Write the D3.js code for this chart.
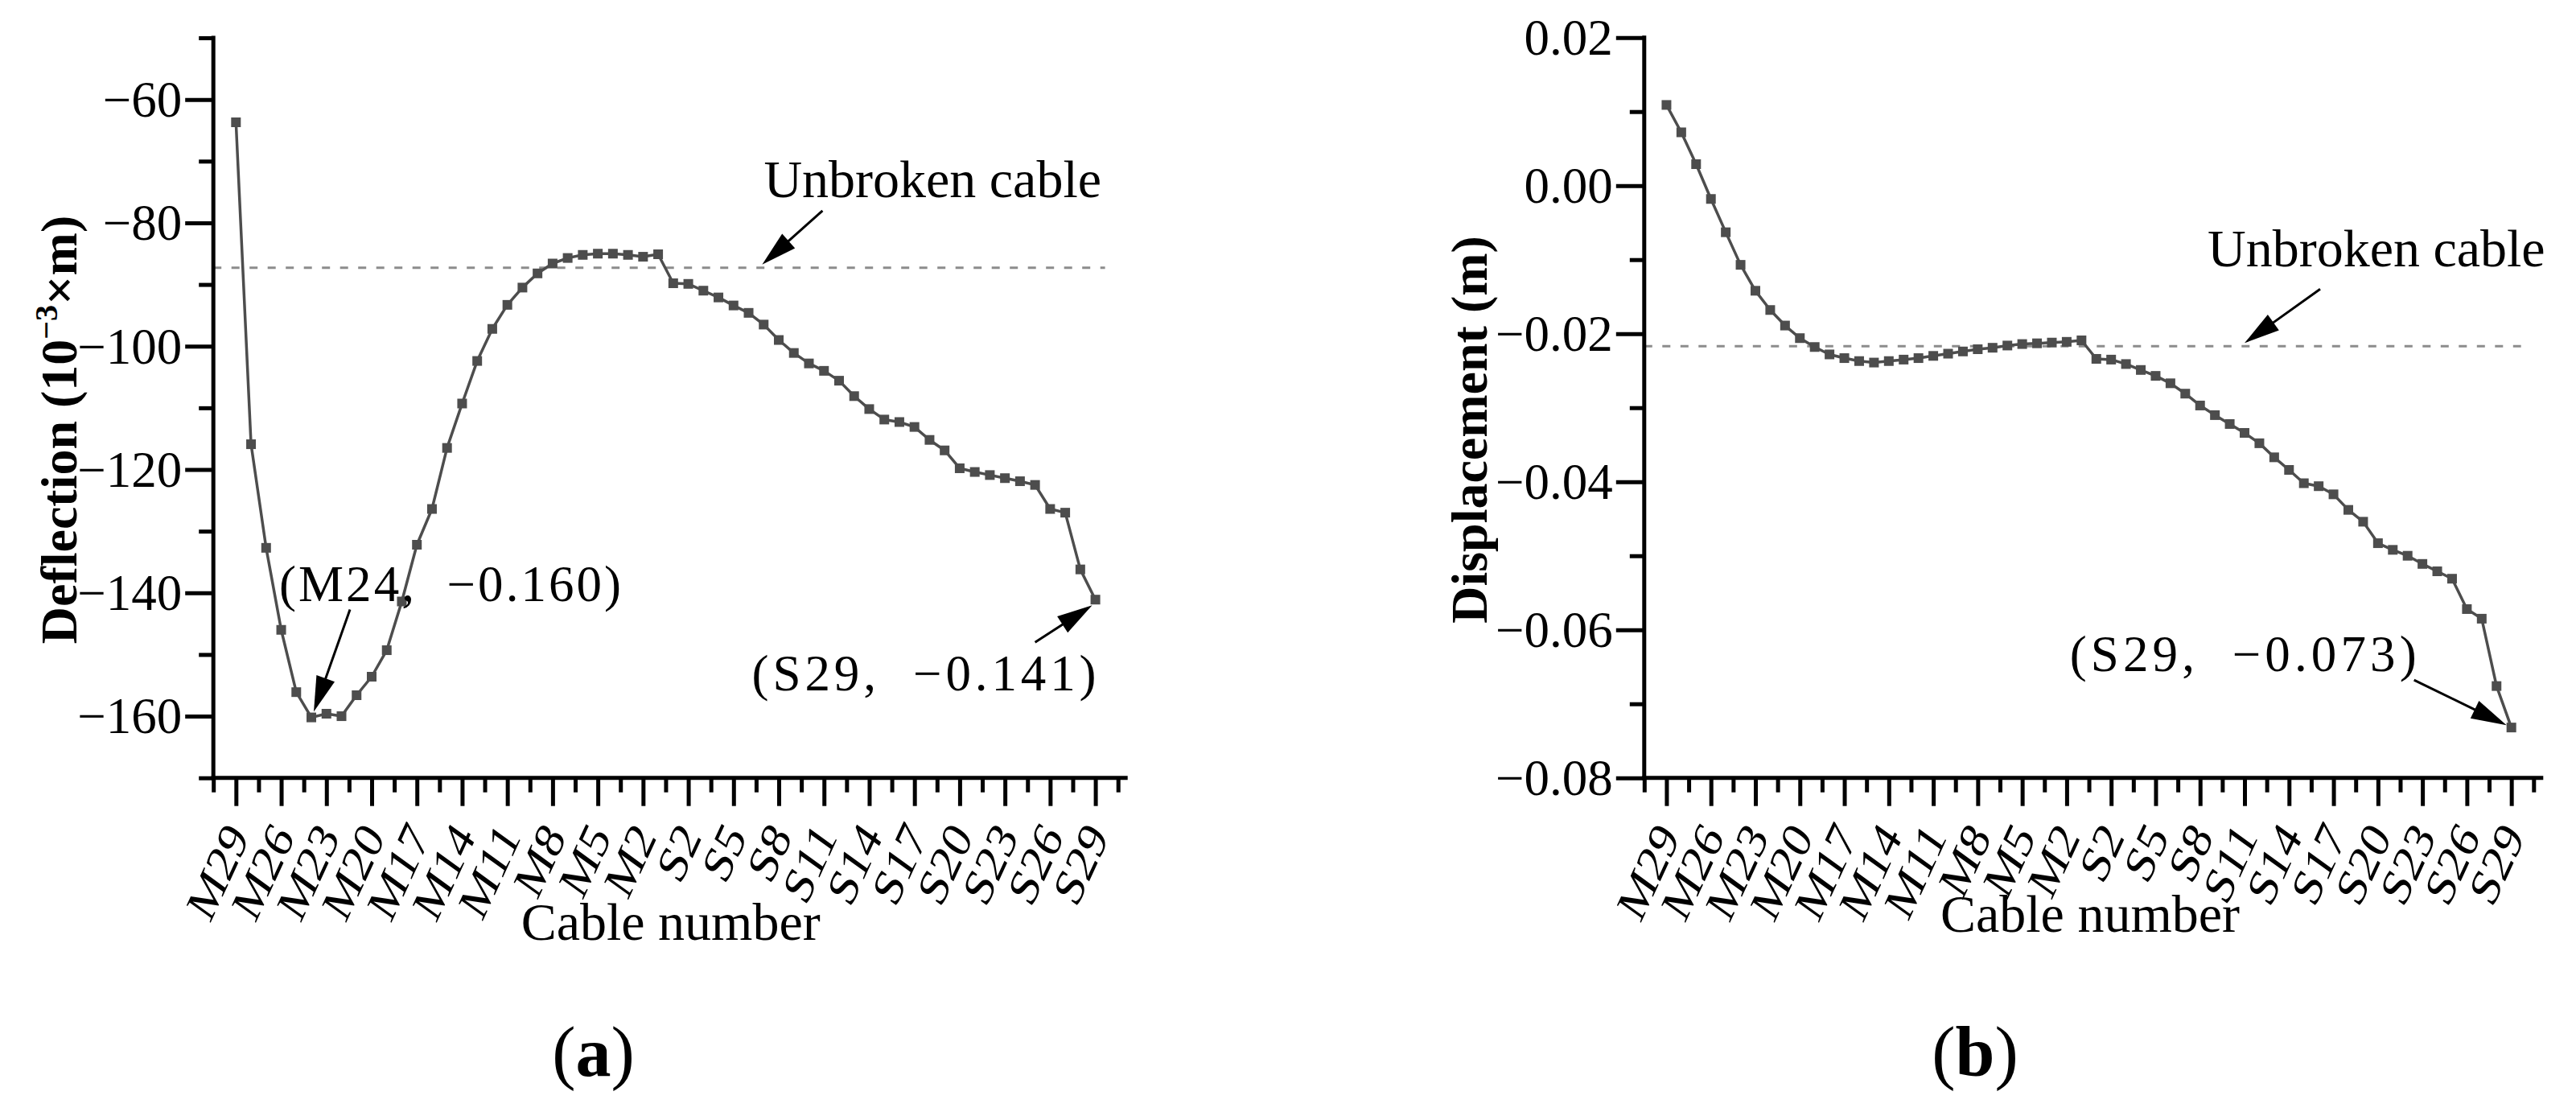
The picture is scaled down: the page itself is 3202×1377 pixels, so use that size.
<!DOCTYPE html>
<html><head><meta charset="utf-8">
<script src="https://cdn.jsdelivr.net/npm/d3@7/dist/d3.min.js"></script>
<style>html,body{margin:0;padding:0;background:#fff;} svg{display:block}</style>
</head><body>
<svg id="chart" width="3202" height="1377" xmlns="http://www.w3.org/2000/svg"></svg>
<script>
// ---------------- DATA ----------------
const categories = [
  "M29","M28","M27","M26","M25","M24","M23","M22","M21","M20",
  "M19","M18","M17","M16","M15","M14","M13","M12","M11","M10",
  "M9","M8","M7","M6","M5","M4","M3","M2","M1",
  "S1","S2","S3","S4","S5","S6","S7","S8","S9","S10",
  "S11","S12","S13","S14","S15","S16","S17","S18","S19","S20",
  "S21","S22","S23","S24","S25","S26","S27","S28","S29"
];
// Panel (a): deflection, 10^-3 m
const deflection = [
  -63.7,-115.9,-132.7,-146.0,-156.1,-160.2,-159.6,-160.0,-156.6,-153.6,
  -149.3,-141.4,-132.2,-126.4,-116.5,-109.3,-102.4,-97.2,-93.3,-90.5,
  -88.2,-86.6,-85.7,-85.2,-85.0,-85.0,-85.2,-85.5,-85.1,
  -89.8,-89.9,-91.0,-92.1,-93.4,-94.6,-96.5,-99.0,-101.1,-102.8,
  -104.0,-105.6,-108.1,-110.2,-111.9,-112.3,-113.1,-115.2,-116.9,-119.8,
  -120.4,-120.9,-121.4,-121.9,-122.5,-126.4,-127.0,-136.2,-141.1
];
// Panel (b): displacement, m
const displacement = [
  0.0109,0.0072,0.0029,-0.0018,-0.0063,-0.0107,-0.0142,-0.0168,-0.0189,-0.0206,
  -0.0218,-0.0228,-0.0233,-0.0237,-0.0239,-0.0237,-0.0235,-0.0233,-0.0230,-0.0227,
  -0.0224,-0.0221,-0.0219,-0.0216,-0.0214,-0.0213,-0.0212,-0.0211,-0.0209,
  -0.0234,-0.0235,-0.0241,-0.0249,-0.0257,-0.0267,-0.0281,-0.0297,-0.0310,-0.0322,
  -0.0334,-0.0348,-0.0367,-0.0384,-0.0402,-0.0406,-0.0417,-0.0438,-0.0454,-0.0483,
  -0.0492,-0.0500,-0.0511,-0.0521,-0.0531,-0.0572,-0.0585,-0.0676,-0.0732
];
const unbrokenDeflection = -87.3;
const unbrokenDisplacement = -0.0217;

const xTickLabels = ["M29","M26","M23","M20","M17","M14","M11","M8","M5","M2",
                     "S2","S5","S8","S11","S14","S17","S20","S23","S26","S29"];
const deflectionTicks = [-160,-140,-120,-100,-80,-60];
const deflectionMinorTicks = [-170,-150,-130,-110,-90,-70,-50];
const displacementTicks = [-0.08,-0.06,-0.04,-0.02,0.00,0.02];
const displacementMinorTicks = [-0.07,-0.05,-0.03,-0.01,0.01];

const annotationsA = [
  {cat:"M24", value:-160.2, label:"(M24,  −0.160)"},
  {cat:"S29", value:-141.1, label:"(S29,  −0.141)"}
];
const annotationsB = [
  {cat:"S29", value:-0.0732, label:"(S29,  −0.073)"}
];

// ---------------- DRAW ----------------
const svg = d3.select("#chart");
const SERIF = "'Liberation Serif','Times New Roman',serif";
const INK = "#000";
const SERIES = "#4d4d4d";

const panels = [
  {
    values: deflection, ref: unbrokenDeflection,
    xRange: [265.2, 1389.7], yRange: [966.7, 47.0], yDomain: [-170, -50],
    major: deflectionTicks, minor: deflectionMinorTicks, fmt: d3.format("d"),
    yTitle: "a", yTitleX: 95, titleX: 833.7, titleY: 1168,
    tag: "a", tagX: 737.5,
    unbroken: {tipIdx: 34.9, tail: [75, -67], text: [2, -84]},
    notes: [
      {a: annotationsA[0], tip: [3, -7], tail: [45, -127], text: [-40, -145], width: 425, anchor: "start"},
      {a: annotationsA[1], tip: [-4, 7], tail: [-71, 46], text: [1, 113], width: 428, anchor: "end"}
    ]
  },
  {
    values: displacement, ref: unbrokenDisplacement,
    xRange: [2043.8, 3149.3], yRange: [966.7, 46.7], yDomain: [-0.08, 0.02],
    major: displacementTicks, minor: displacementMinorTicks, fmt: d3.format(".2f"),
    yTitle: "b", yTitleX: 1848, titleX: 2598, titleY: 1158,
    tag: "b", tagX: 2455,
    unbroken: {tipIdx: 39.0, tail: [94, -67], text: [-46, -95]},
    notes: [
      {a: annotationsB[0], tip: [-6, -3], tail: [-115, -56], text: [-118, -70], width: 431, anchor: "end"}
    ]
  }
];

function arrow(g, x1, y1, x2, y2) {
  const L = 44, hw = 12;
  const dx = x2 - x1, dy = y2 - y1, len = Math.hypot(dx, dy);
  const ux = dx / len, uy = dy / len;
  const bx = x2 - ux * L, by = y2 - uy * L;
  g.append("line").attr("x1", x1).attr("y1", y1).attr("x2", bx + ux * 4).attr("y2", by + uy * 4)
    .attr("stroke", INK).attr("stroke-width", 3);
  g.append("path")
    .attr("d", `M${x2},${y2}L${bx - uy * hw},${by + ux * hw}L${bx + uy * hw},${by - ux * hw}Z`)
    .attr("fill", INK);
}

// rotated, slightly squeezed category labels placed from glyph metrics
const XLAB = {size: 66, angle: -60, sx: 0.8, capH: 0.662, right: 17, top: 52};
function placeXLabel(node, tickOffset) {
  const L = node.getComputedTextLength();
  const h = XLAB.capH * XLAB.size;
  const a = XLAB.angle * Math.PI / 180, c = Math.cos(a), s = Math.sin(a);
  const pts = [[-L, 0], [0, 0], [-L, -h], [0, -h]].map(([u, v]) =>
    [XLAB.sx * (u * c - v * s), u * s + v * c]);
  const maxX = d3.max(pts, q => q[0]), minY = d3.min(pts, q => q[1]);
  const tx = XLAB.right - maxX, ty = tickOffset + XLAB.top - minY;
  d3.select(node).attr("transform",
    `translate(${tx},${ty}) scale(${XLAB.sx},1) rotate(${XLAB.angle})`);
}

panels.forEach(p => {
  const n = categories.length;
  const x = d3.scaleLinear().domain([-1.5, n + 0.5]).range(p.xRange);
  const y = d3.scaleLinear().domain(p.yDomain).range(p.yRange);
  const g = svg.append("g");

  // reference (unbroken cable) dashed line
  g.append("line")
    .attr("x1", p.xRange[0]).attr("x2", x(n - 1) + 12)
    .attr("y1", y(p.ref)).attr("y2", y(p.ref))
    .attr("stroke", "#8c8c8c").attr("stroke-width", 3).attr("stroke-dasharray", "10,12.5");

  // Y axis: minor then major ticks
  const yMinorAxis = d3.axisLeft(y).tickValues(p.minor).tickSize(18).tickFormat("");
  const yMajorAxis = d3.axisLeft(y).tickValues(p.major).tickSize(35).tickPadding(4).tickFormat(p.fmt);
  [yMinorAxis, yMajorAxis].forEach(ax => {
    const ag = g.append("g").attr("transform", `translate(${p.xRange[0]},0)`).call(ax)
      .attr("font-family", SERIF).attr("font-size", 63);
    ag.select(".domain").remove();
    ag.selectAll(".tick line").attr("stroke", INK).attr("stroke-width", 5);
    ag.selectAll(".tick text").style("font-family", SERIF).style("font-size", "63px")
      .attr("fill", INK).attr("dy", "0.33em");
  });

  // X axis: minor and major
  const xMinorVals = d3.range(-1.5, n + 1, 3);
  const xMajorVals = xTickLabels.map(l => categories.indexOf(l));
  const xMinorAxis = d3.axisBottom(x).tickValues(xMinorVals).tickSize(18).tickFormat("");
  const xMajorAxis = d3.axisBottom(x).tickValues(xMajorVals).tickSize(35).tickFormat(i => categories[i]);
  [xMinorAxis, xMajorAxis].forEach((ax, k) => {
    const ag = g.append("g").attr("transform", `translate(0,${p.yRange[0]})`).call(ax)
      .attr("font-family", SERIF).attr("font-size", XLAB.size);
    ag.select(".domain").remove();
    ag.selectAll(".tick line").attr("stroke", INK).attr("stroke-width", 5);
    const txt = ag.selectAll(".tick text").style("font-family", SERIF)
      .style("font-size", XLAB.size + "px").attr("fill", INK)
      .attr("y", null).attr("dy", null).attr("text-anchor", "end");
    if (k === 1) txt.each(function () { placeXLabel(this, 0); });
  });

  // axis lines
  g.append("line").attr("x1", p.xRange[0]).attr("x2", p.xRange[0])
    .attr("y1", p.yRange[1] - 2.5).attr("y2", p.yRange[0] + 2.5)
    .attr("stroke", INK).attr("stroke-width", 5);
  g.append("line").attr("x1", p.xRange[0] - 2.5).attr("x2", p.xRange[1] + 12)
    .attr("y1", p.yRange[0]).attr("y2", p.yRange[0])
    .attr("stroke", INK).attr("stroke-width", 5);

  // series line and markers
  const line = d3.line().x((d, i) => x(i)).y(d => y(d));
  g.append("path").datum(p.values).attr("d", line)
    .attr("fill", "none").attr("stroke", SERIES).attr("stroke-width", 3.5).attr("stroke-linejoin", "round");
  g.selectAll("rect.pt").data(p.values).enter().append("rect").attr("class", "pt")
    .attr("x", (d, i) => x(i) - 6).attr("y", d => y(d) - 6)
    .attr("width", 12).attr("height", 12).attr("fill", SERIES);

  // unbroken cable annotation
  const ut = [x(p.unbroken.tipIdx), y(p.ref) - 4];
  arrow(g, ut[0] + p.unbroken.tail[0], ut[1] + p.unbroken.tail[1], ut[0], ut[1]);
  g.append("text").attr("x", ut[0] + p.unbroken.text[0]).attr("y", ut[1] + p.unbroken.text[1])
    .attr("font-family", SERIF).attr("font-size", 66).attr("fill", INK).text("Unbroken cable");

  // point annotations
  p.notes.forEach(nt => {
    const i = categories.indexOf(nt.a.cat);
    const px = x(i), py = y(nt.a.value);
    const tip = [px + nt.tip[0], py + nt.tip[1]];
    arrow(g, tip[0] + nt.tail[0], tip[1] + nt.tail[1], tip[0], tip[1]);
    g.append("text").attr("x", px + nt.text[0]).attr("y", py + nt.text[1])
      .attr("text-anchor", nt.anchor)
      .attr("font-family", SERIF).attr("font-size", 63).attr("fill", INK)
      .style("white-space", "pre")
      .attr("textLength", nt.width).attr("lengthAdjust", "spacing")
      .text(nt.a.label);
  });

  // axis titles
  const cy = 534;
  const yt = g.append("text")
    .attr("transform", `translate(${p.yTitleX},${cy}) rotate(-90)`)
    .attr("text-anchor", "middle").attr("font-family", SERIF).attr("font-size", 64)
    .attr("font-weight", "bold").attr("fill", INK);
  if (p.yTitle === "a") {
    yt.append("tspan").text("Deflection (10");
    yt.append("tspan").attr("font-size", 40).attr("dy", -24).text("−3");
    yt.append("tspan").attr("dy", 24).text("×m)");
  } else {
    yt.text("Displacement (m)");
  }
  g.append("text").attr("x", p.titleX).attr("y", p.titleY).attr("text-anchor", "middle")
    .attr("font-family", SERIF).attr("font-size", 66).attr("fill", INK).text("Cable number");

  // panel tag
  const tg = g.append("text").attr("x", p.tagX).attr("y", 1337).attr("text-anchor", "middle")
    .attr("font-family", SERIF).attr("font-size", 88).attr("fill", INK);
  tg.append("tspan").text("(");
  tg.append("tspan").attr("font-weight", "bold").text(p.tag);
  tg.append("tspan").text(")");
});
</script>
</body></html>
